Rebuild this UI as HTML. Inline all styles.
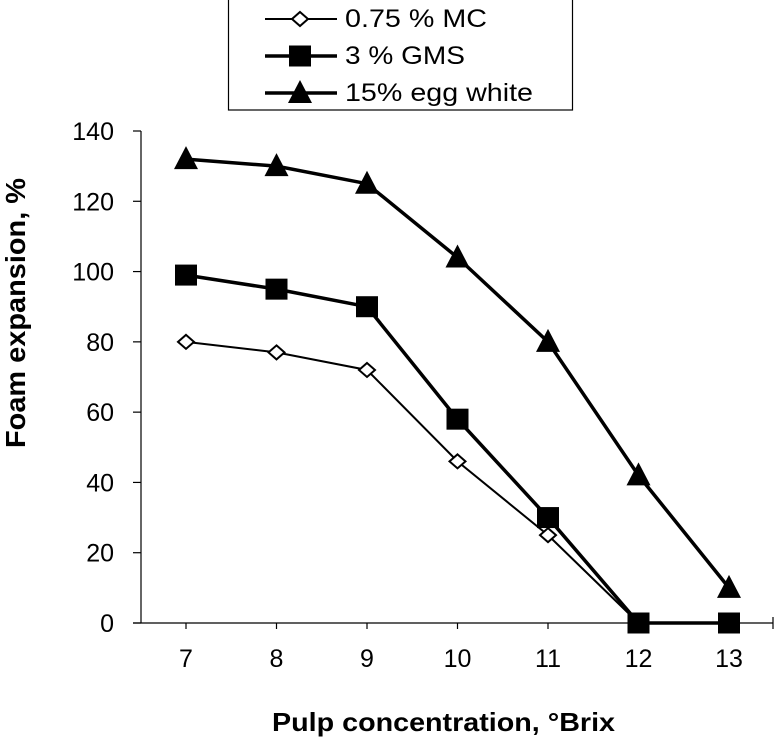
<!DOCTYPE html>
<html><head><meta charset="utf-8"><style>body{margin:0;background:#fff}svg{display:block;font-family:"Liberation Sans",Arial,sans-serif}</style></head>
<body>
<svg id="chart" width="776" height="740" viewBox="0 0 776 740"></svg>
<script>
const categories=[7,8,9,10,11,12,13];
const mcValues=[80,77,72,46,25,0,0];
const gmsValues=[99,95,90,58,30,0,0];
const eggValues=[132,130,125,104,80,42,10];
const yTicks=[0,20,40,60,80,100,120,140];
const seriesNames=["0.75 % MC","3 % GMS","15% egg white"];
const NS="http://www.w3.org/2000/svg";
const svg=document.getElementById('chart');
function X(v){return 186+(v-7)*90.5;}
function Y(v){return 623-v*(492/140);}
function mk(t,a,p){const e=document.createElementNS(NS,t);for(const k in a)e.setAttribute(k,a[k]);(p||svg).appendChild(e);return e;}
let ya=mk('line',{x1:141,y1:Y(140),x2:141,y2:623,stroke:'#000','stroke-width':1.2});


let xa=mk('line',{x1:133,y1:623,x2:773,y2:623,stroke:'#000','stroke-width':1.2});


mk('line',{x1:773,y1:617,x2:773,y2:629,stroke:'#000','stroke-width':1.2});
yTicks.forEach(t=>{
 mk('line',{x1:133,y1:Y(t),x2:141,y2:Y(t),stroke:'#000','stroke-width':1.2});
 const tx=mk('text',{x:114,y:Y(t)+9,'text-anchor':'end','font-size':25});
 tx.textContent=t;
 
 
});
categories.forEach(c=>{
 mk('line',{x1:X(c),y1:623,x2:X(c),y2:629,stroke:'#000','stroke-width':1.2});
 const tx=mk('text',{x:X(c),y:667,'text-anchor':'middle','font-size':25});
 tx.textContent=c;
 
 
});
function marker(kind,x,y,g){
 if(kind==='diamond')return mk('path',{d:`M${x} ${y-7}L${x+8} ${y}L${x} ${y+7}L${x-8} ${y}Z`,fill:'#fff',stroke:'#000','stroke-width':2},g);
 if(kind==='square')return mk('rect',{x:x-11,y:y-10.5,width:22,height:21,fill:'#000'},g);
 return mk('path',{d:`M${x} ${y-13}L${x+12} ${y+10}L${x-12} ${y+10}Z`,fill:'#000'},g);
}
function series(vals,kind,w,name){
 const g=mk('g',{});
 
 
 mk('polyline',{points:vals.map((v,i)=>X(categories[i])+','+Y(v)).join(' '),fill:'none',stroke:'#000','stroke-width':w},g);
 vals.forEach((v,i)=>{const m=marker(kind,X(categories[i]),Y(v),g);
  
  });
}
series(mcValues,'diamond',2,'series-mc');
series(gmsValues,'square',3.5,'series-gms');
series(eggValues,'triangle',3.5,'series-egg-white');
const lg=mk('g',{});


mk('rect',{x:228.5,y:-1,width:344,height:111,fill:'#fff',stroke:'#000','stroke-width':1.2},lg);
const kinds=['diamond','square','triangle'],ws=[2,3.5,3.5],ly=[19,56,93],lens=[142,120,188];
seriesNames.forEach((n,i)=>{
 const e=mk('g',{},lg);
 
 
 mk('line',{x1:265,y1:ly[i],x2:337,y2:ly[i],stroke:'#000','stroke-width':ws[i]},e);
 marker(kinds[i],300,ly[i],e);
 const t=mk('text',{x:345,y:ly[i]+8,'font-size':25,textLength:lens[i],lengthAdjust:'spacingAndGlyphs'},e);t.textContent=n;
});
const yt=mk('text',{x:0,y:0,'font-size':28,'font-weight':'bold','text-anchor':'middle',textLength:270,lengthAdjust:'spacingAndGlyphs',transform:'translate(25,313) rotate(-90)'});
yt.textContent='Foam expansion, %';


const xt=mk('text',{x:272,y:731,'font-size':26,'font-weight':'bold',textLength:343,lengthAdjust:'spacingAndGlyphs'});
xt.textContent='Pulp concentration, °Brix';


</script>
</body></html>
